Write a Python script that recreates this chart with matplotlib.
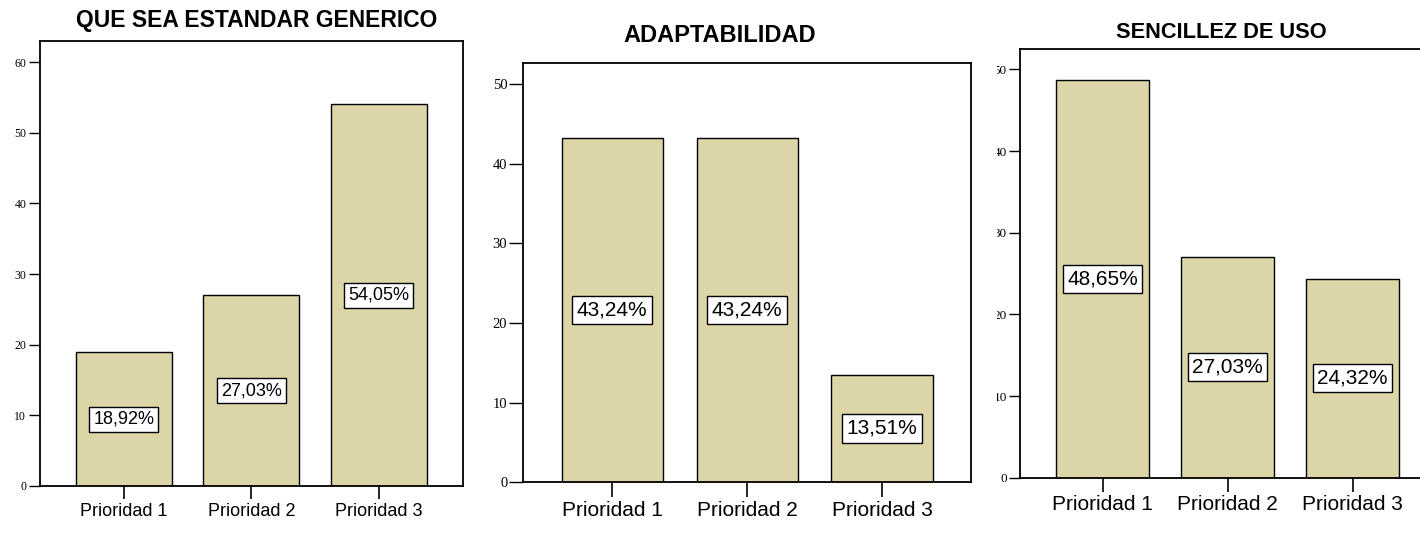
import matplotlib
matplotlib.use("Agg")
import matplotlib.pyplot as plt
from matplotlib.patches import Rectangle

categories = ["Prioridad 1", "Prioridad 2", "Prioridad 3"]
titles = ["QUE SEA ESTANDAR GENERICO", "ADAPTABILIDAD", "SENCILLEZ DE USO"]
vals_estandar = [18.92, 27.03, 54.05]
vals_adapt = [43.24, 43.24, 13.51]
vals_sencillez = [48.65, 27.03, 24.32]
series = [vals_estandar, vals_adapt, vals_sencillez]

W, H = 1420, 540
fig = plt.figure(figsize=(W / 100, H / 100), dpi=100)
fig.patch.set_facecolor("white")

# layout per panel (pixels): left, right, top, bottom
panels = [
    dict(l=39.5, r=463.0, t=41.0, b=486.0, ymax=63.0, yticks=[0, 10, 20, 30, 40, 50, 60],
         ytfs=8.5, xtfs=13, lfs=13, tfs=16.5, title_xy=(257, 20), ytl=8, xtl=9.5),
    dict(l=523.3, r=971.0, t=63.3, b=482.3, ymax=52.6, yticks=[0, 10, 20, 30, 40, 50],
         ytfs=10.5, xtfs=15, lfs=15, tfs=17, title_xy=(719.5, 36), ytl=10, xtl=11),
    dict(l=1020.0, r=1435.0, t=49.0, b=477.7, ymax=52.5, yticks=[0, 10, 20, 30, 40, 50],
         ytfs=9.5, xtfs=15, lfs=15, tfs=15.7, title_xy=(1221, 33), ytl=8, xtl=10),
]

bar_color = "#DCD5A8"
sans = ["Liberation Sans", "Arial", "DejaVu Sans"]
serif = ["Liberation Serif", "Times New Roman", "DejaVu Serif"]

for p, vals, title in zip(panels, series, titles):
    ax = fig.add_axes([p["l"] / W, (H - p["b"]) / H, (p["r"] - p["l"]) / W, (p["b"] - p["t"]) / H])
    x = list(range(len(categories)))
    ax.bar(x, vals, width=0.75, color=bar_color, edgecolor="black", linewidth=1.0, zorder=2)
    ax.set_xlim(-0.66, 2.66)
    ax.set_ylim(0, p["ymax"])
    ax.set_xticks(x)
    ax.set_xticklabels(categories, fontsize=p["xtfs"], family=sans)
    ax.set_yticks(p["yticks"])
    ax.set_yticklabels([str(v) for v in p["yticks"]], fontsize=p["ytfs"], family=serif)
    ax.tick_params(axis="y", direction="out", length=p["ytl"], width=1.0, pad=1.5, left=True, right=False)
    ax.tick_params(axis="x", direction="out", length=p["xtl"], width=1.2, pad=2.5, bottom=True, top=False)
    for s in ax.spines.values():
        s.set_linewidth(1.3)
        s.set_color("black")
    for xi, v in zip(x, vals):
        ax.text(xi, v / 2, f"{v:.2f}%".replace(".", ","), ha="center", va="center",
                fontsize=p["lfs"], family=sans, zorder=3,
                bbox=dict(boxstyle="square,pad=0.22", facecolor="white", edgecolor="black", linewidth=1.0))
    fig.text(p["title_xy"][0] / W, 1 - p["title_xy"][1] / H, title, ha="center", va="center",
             fontsize=p["tfs"], fontweight="bold", family=sans)

# the third panel is cropped on its left side in the reference
fig.patches.append(Rectangle((975 / W, 40 / H), (997 - 975) / W, 480 / H,
                             transform=fig.transFigure, facecolor="white", edgecolor="none", zorder=10))

fig.savefig("out.png", dpi=100)
